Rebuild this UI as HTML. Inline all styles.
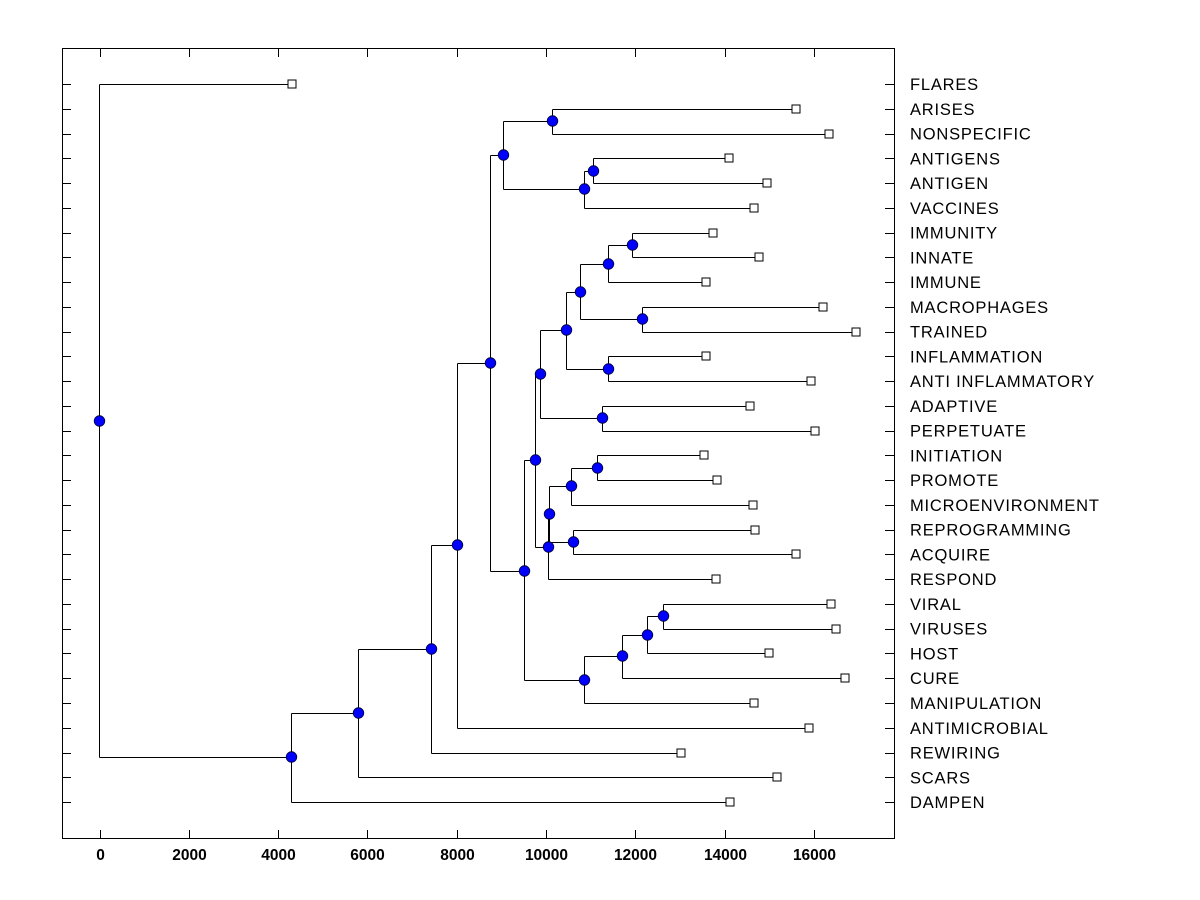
<!DOCTYPE html>
<html><head><meta charset="utf-8"><style>
html,body{margin:0;padding:0;background:#fff;}
svg{display:block;}
text{font-family:"Liberation Sans",Arial,sans-serif;}
</style></head><body>
<svg id="s" width="1200" height="900" xmlns="http://www.w3.org/2000/svg"></svg>
<script>
const ns="http://www.w3.org/2000/svg",s=document.getElementById('s');
function el(t,a,txt){const e=document.createElementNS(ns,t);for(const k in a)e.setAttribute(k,a[k]);if(txt!==undefined)e.textContent=txt;s.appendChild(e);return e;}
const names=["FLARES","ARISES","NONSPECIFIC","ANTIGENS","ANTIGEN","VACCINES","IMMUNITY","INNATE","IMMUNE","MACROPHAGES","TRAINED","INFLAMMATION","ANTI INFLAMMATORY","ADAPTIVE","PERPETUATE","INITIATION","PROMOTE","MICROENVIRONMENT","REPROGRAMMING","ACQUIRE","RESPOND","VIRAL","VIRUSES","HOST","CURE","MANIPULATION","ANTIMICROBIAL","REWIRING","SCARS","DAMPEN"];
const lx=[292,796,829,729,767,754,713,759,706,823,856,706,811,750,815,704,717,753,755,796,716,831,836,769,845,754,809,681,777,730];
const Y=i=>84+i*24.76;
el('rect',{x:62.5,y:48.5,width:832,height:790,fill:'none',stroke:'#000','stroke-width':1});
for(let i=0;i<30;i++){const y=Math.round(Y(i))+.5;el('line',{x1:62,y1:y,x2:71,y2:y,stroke:'#000'});
 el('line',{x1:885,y1:y,x2:894,y2:y,stroke:'#000'});
 el('text',{x:910,y:Y(i)+6,'font-size':16.5,'letter-spacing':'0.8'},names[i]);}
for(let k=0;k<=8;k++){const x=Math.round(99.5+k*89.3)+.5;
 el('line',{x1:x,y1:838,x2:x,y2:830,stroke:'#000'});el('line',{x1:x,y1:49,x2:x,y2:57,stroke:'#000'});
 el('text',{x:x,y:860,'font-size':15.5,'font-weight':'bold','text-anchor':'middle'},String(k*2000));}
const N={};
const leaf=i=>({x:lx[i],y:Y(i),leaf:true});
function node(id,x,y,a,b){N[id]={x,y,a,b};}
node('AB',663,616,leaf(21),leaf(22));
node('AA',647,635,'AB',leaf(23));
node('Z',622,656,'AA',leaf(24));
node('L',584,680,'Z',leaf(25));
node('Y',597,468,leaf(15),leaf(16));
node('W',571,486,'Y',leaf(17));
node('X',573,542,leaf(18),leaf(19));
node('V',549,514,'W','X');
node('N',548,547,'V',leaf(20));
node('P',602,418,leaf(13),leaf(14));
node('R',608,369,leaf(11),leaf(12));
node('T',642,319,leaf(9),leaf(10));
node('U',632,245,leaf(6),leaf(7));
node('S',608,264,'U',leaf(8));
node('Q',580,292,'S','T');
node('O',566,330,'Q','R');
node('M',540,374,'O','P');
node('K',535,460,'M','N');
node('G',524,571,'K','L');
node('J',593,171,leaf(3),leaf(4));
node('I',584,189,'J',leaf(5));
node('H',552,121,leaf(1),leaf(2));
node('F',503,155,'H','I');
node('E',490,363,'F','G');
node('D',457,545,'E',leaf(26));
node('C',431,649,'D',leaf(27));
node('B',358,713,'C',leaf(28));
node('A',291,757,'B',leaf(29));
node('R0',99,421,leaf(0),'A');
const get=c=>typeof c==='string'?N[c]:c;
const circles=[],squares=[];
for(const id in N){const n=N[id],a=get(n.a),b=get(n.b),x=n.x+.5;
 el('line',{x1:x,y1:Math.round(a.y)+.5,x2:x,y2:Math.round(b.y)+.5,stroke:'#000'});
 for(const c of [a,b]){const y=Math.round(c.y)+.5;el('line',{x1:x,y1:y,x2:c.x,y2:y,stroke:'#000'});if(c.leaf)squares.push(c);}
 circles.push(n);}
for(const c of squares)el('rect',{x:c.x-4,y:Math.round(c.y)-4,width:8,height:8,fill:'#fff',stroke:'#000'});
for(const n of circles)el('circle',{cx:n.x+.5,cy:n.y,r:5.3,fill:'#0000ff',stroke:'#000033','stroke-width':0.8});
</script>
</body></html>
